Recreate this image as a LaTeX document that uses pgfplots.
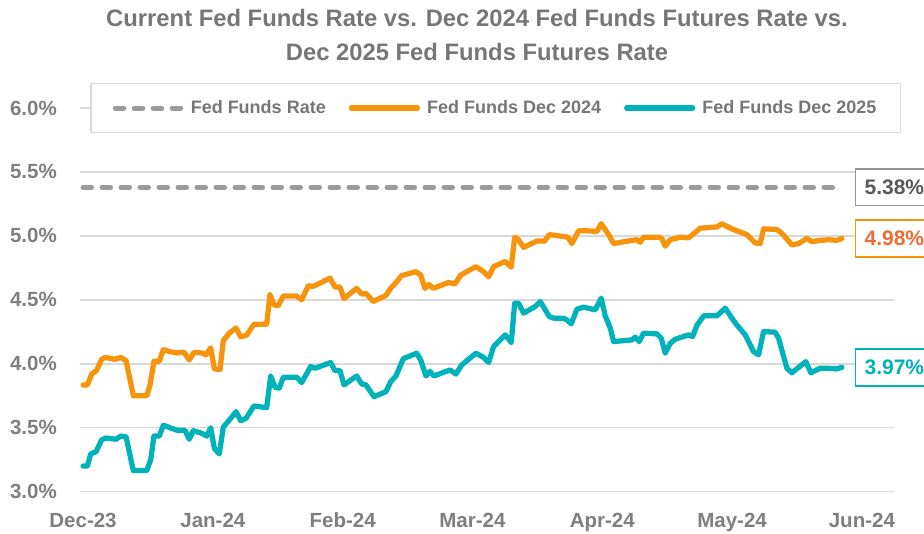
\documentclass[border=0pt]{standalone}
\usepackage{fontspec}
\setmainfont{Liberation Sans}
\usepackage{pgfplots}
\pgfplotsset{compat=1.18}
\definecolor{fforange}{RGB}{247,148,12}
\definecolor{ffteal}{RGB}{0,178,186}
\definecolor{ffgray}{RGB}{155,155,158}
\definecolor{gridgray}{RGB}{217,217,217}
\definecolor{ticktext}{RGB}{127,127,127}
\definecolor{titlegray}{RGB}{118,118,118}
\definecolor{lblorange}{RGB}{234,110,50}
\definecolor{lbldark}{RGB}{89,89,89}
\definecolor{lblbox}{RGB}{150,150,150}
\newcommand\tickfont{\bfseries\fontsize{20.5}{24}\selectfont}
\newcommand\legfont{\bfseries\fontsize{18}{21}\selectfont}
\newcommand\lblfont{\bfseries\fontsize{21}{24}\selectfont}
\newcommand\titlefont{\bfseries\fontsize{23.8}{28}\selectfont}
\begin{document}
\begin{tikzpicture}
\begin{axis}[
  at={(0pt,0pt)}, anchor=south west,
  scale only axis, width=814pt, height=383.7pt,
  xmin=-0.49, xmax=131.2, ymin=3, ymax=6,
  axis line style={draw=none}, major tick length=0pt,
  xtick={0,21,42,63,84,105,126},
  xticklabels={Dec-23,Jan-24,Feb-24,Mar-24,Apr-24,May-24,Jun-24},
  ytick={3,3.5,4,4.5,5,5.5,6},
  yticklabel={\pgfmathprintnumber[fixed,fixed zerofill,precision=1]{\tick}\%},
  /pgf/number format/assume math mode=true,
  ymajorgrids, grid style={gridgray, line width=1.5pt},
  tick label style={font=\tickfont, text=ticktext, inner sep=0pt},
  yticklabel style={anchor=east, xshift=-23pt},
  xticklabel style={anchor=north, yshift=-21pt},
  clip mode=individual,
  legend image code/.code={\draw[#1] (0pt,0pt) -- (66pt,0pt);},
  legend columns=3,
  legend cell align=left,
  legend style={at={(0.0123,1.0652)}, anchor=north west, draw=gridgray,
    line width=1.5pt, fill=white, inner xsep=22pt, inner ysep=15pt,
    font=\legfont, text=titlegray,
    /tikz/every even column/.append style={column sep=21pt},
    /tikz/every odd column/.append style={column sep=5pt},
    nodes={inner sep=2pt}},
]
\addplot[ffgray, line width=5pt, line cap=round, dash pattern=on 8.5pt off 10.5pt]
  coordinates {(0,5.38) (122.77,5.38)};
\addlegendentry{Fed Funds Rate}
\addplot[fforange, line width=5.25pt, line join=round, line cap=round] coordinates {
(0,3.835) (0.70,3.835) (1.41,3.92) (2.22,3.95) (3.02,4.035) (3.56,4.05) (5.18,4.035)
(6.10,4.05) (6.96,4.025) (8.14,3.75) (10.30,3.75) (10.84,3.835) (11.48,4.02) (12.34,4.02)
(12.99,4.11) (14.07,4.095) (15.16,4.085) (16.34,4.09) (17.19,4.03) (17.95,4.09) (19.20,4.085)
(19.89,4.07) (20.66,4.125) (21.24,3.96) (22.16,3.955) (22.69,4.18) (23.66,4.24) (24.75,4.28)
(25.51,4.21) (26.48,4.225) (27.66,4.31) (29.71,4.31) (30.25,4.54) (30.89,4.46) (31.59,4.455)
(32.40,4.53) (34.57,4.53) (35.37,4.50) (36.44,4.61) (37.25,4.605) (39.95,4.67) (40.76,4.60)
(41.57,4.60) (42.22,4.51) (44.27,4.59) (45.08,4.545) (45.77,4.55) (46.96,4.487) (49.01,4.535)
(49.77,4.59) (50.47,4.625) (51.55,4.69) (53.86,4.72) (54.62,4.695) (55.32,4.59) (55.96,4.62)
(56.66,4.59) (59.09,4.635) (60.17,4.625) (61.14,4.695) (63.57,4.76) (64.81,4.72) (65.62,4.68)
(66.43,4.76) (68.31,4.80) (69.28,4.755) (69.83,4.99) (70.36,4.975) (71.28,4.91) (73.43,4.96)
(74.68,4.96) (75.42,5.01) (77.75,4.995) (78.45,4.99) (79.09,4.94) (80.18,5.04) (81.52,5.04)
(83.14,5.035) (83.83,5.095) (85.03,5.01) (85.84,4.94) (88.80,4.965) (89.61,4.97) (90.14,4.95)
(90.69,4.99) (93.12,4.99) (93.65,4.98) (94.19,4.92) (94.99,4.97) (96.61,4.99) (97.97,4.985)
(99.04,5.027) (99.85,5.06) (102.55,5.07) (103.36,5.095) (104.17,5.075) (104.98,5.055)
(107.40,5.01) (108.74,4.945) (109.55,4.94) (110.10,5.055) (112.25,5.05) (113.06,5.02)
(114.68,4.93) (115.76,4.94) (117.10,4.98) (117.91,4.955) (119.25,4.965) (120.62,4.97)
(121.96,4.965) (122.77,4.98)};
\addlegendentry{Fed Funds Dec 2024}
\addplot[ffteal, line width=5.25pt, line join=round, line cap=round] coordinates {
(0,3.20) (0.70,3.20) (1.25,3.295) (2.10,3.313) (3.02,3.405) (3.72,3.42) (5.34,3.41)
(6.10,3.435) (6.96,3.43) (8.14,3.165) (10.30,3.165) (10.95,3.25) (11.48,3.435) (12.34,3.435)
(12.99,3.52) (14.07,3.50) (15.25,3.48) (16.50,3.48) (17.19,3.41) (17.84,3.477) (19.20,3.457)
(20.01,3.435) (20.66,3.50) (21.24,3.34) (22.05,3.295) (22.69,3.505) (23.66,3.56) (24.75,3.626)
(25.51,3.555) (26.37,3.574) (27.66,3.67) (29.71,3.657) (30.36,3.905) (31.06,3.817) (31.75,3.81)
(32.40,3.895) (34.57,3.895) (35.37,3.853) (36.83,3.978) (37.53,3.965) (40.06,4.01) (40.76,3.947)
(41.57,3.947) (42.22,3.835) (44.27,3.905) (45.08,3.843) (45.77,3.835) (47.07,3.743) (49.01,3.782)
(49.77,3.86) (50.63,3.905) (51.81,4.04) (53.98,4.083) (54.62,4.03) (55.48,3.905) (56.13,3.94)
(56.77,3.905) (59.36,3.952) (60.33,3.92) (61.25,3.99) (63.57,4.083) (64.81,4.05) (65.62,4.01)
(66.43,4.135) (68.31,4.226) (69.28,4.166) (69.83,4.474) (70.47,4.474) (71.28,4.396) (73.16,4.448)
(73.97,4.487) (75.42,4.37) (76.13,4.357) (77.75,4.355) (78.29,4.343) (78.98,4.312) (79.90,4.427)
(80.99,4.443) (82.86,4.422) (83.83,4.513) (84.48,4.375) (85.29,4.28) (85.84,4.174) (88.80,4.187)
(89.33,4.208) (89.98,4.174) (90.69,4.24) (92.84,4.234) (93.54,4.20) (94.19,4.083) (94.99,4.16)
(95.80,4.192) (97.97,4.226) (98.62,4.213) (99.31,4.30) (100.40,4.375) (102.55,4.375) (103.89,4.435)
(105.62,4.312) (107.13,4.226) (108.48,4.095) (109.29,4.07) (110.10,4.252) (111.98,4.247)
(112.53,4.20) (113.87,3.965) (114.68,3.93) (116.94,4.017) (117.75,3.93) (119.25,3.965)
(120.62,3.965) (121.96,3.96) (122.77,3.973)};
\addlegendentry{Fed Funds Dec 2025}
\node[anchor=west, draw=lblbox, line width=1.5pt, fill=white, text=lbldark, font=\lblfont,
  inner xsep=9pt, inner ysep=11pt] at (axis cs:124.87,5.38) {5.38\%};
\node[anchor=west, draw=fforange, line width=1.5pt, fill=white, text=lblorange, font=\lblfont,
  inner xsep=9pt, inner ysep=11pt] at (axis cs:124.87,4.98) {4.98\%};
\node[anchor=west, draw=ffteal, line width=1.5pt, fill=white, text=ffteal, font=\lblfont,
  inner xsep=9pt, inner ysep=11pt] at (axis cs:124.87,3.97) {3.97\%};
\end{axis}
\node[anchor=base, font=\titlefont, text=titlegray] at (397pt,464.7pt)
  {Current Fed Funds Rate vs. Dec 2024 Fed Funds Futures Rate vs.};
\node[anchor=base, font=\titlefont, text=titlegray] at (397pt,430.7pt)
  {Dec 2025 Fed Funds Futures Rate};
\pgfresetboundingbox
\useasboundingbox (-80pt,-41.3pt) rectangle (844pt,491.7pt);
\end{tikzpicture}
\end{document}
